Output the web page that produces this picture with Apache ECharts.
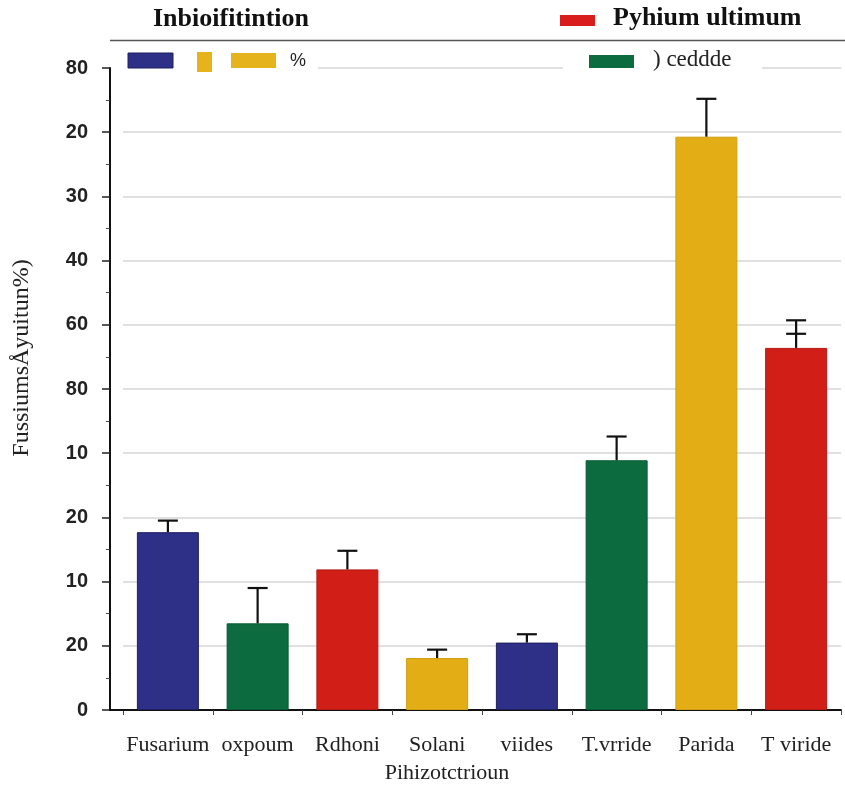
<!DOCTYPE html>
<html>
<head>
<meta charset="utf-8">
<script src="https://cdn.jsdelivr.net/npm/echarts@6/dist/echarts.min.js"></script>
<style>
  html, body { margin: 0; padding: 0; background: #fff; }
  #chart { width: 845px; height: 787px; }
</style>
</head>
<body>
<div id="chart"></div>
<script>
// Bar categories along the x axis
const categories = ['Fusarium', 'oxpoum', 'Rdhoni', 'Solani', 'viides', 'T.vrride', 'Parida', 'T viride'];
// Bar heights (axis units, 0 at the baseline)
const values = [27.7, 13.5, 21.9, 8.1, 10.5, 38.9, 89.3, 56.4];
// Upper end of each error bar
const errorTop = [29.5, 19.0, 24.8, 9.4, 11.8, 42.6, 95.2, 60.7];
// Extra inner cap (only the last bar has one)
const errorInner = [null, null, null, null, null, null, null, 58.6];
// Colour group of each bar
const groups = ['blue', 'green', 'red', 'yellow', 'blue', 'green', 'yellow', 'red'];
// Printed y tick labels, bottom to top
const yTickLabels = ['0', '20', '10', '20', '10', '80', '60', '40', '30', '20', '80'];

const palette = {
  blue:   { fill: '#2e2f86', edge: '#1f2060' },
  green:  { fill: '#0c6c3f', edge: '#0a5a34' },
  red:    { fill: '#d11f18', edge: '#b51812' },
  yellow: { fill: '#e2ad15', edge: '#d29f10' }
};

const serif = '"Liberation Serif", "DejaVu Serif", serif';
const sans = '"Liberation Sans", Arial, sans-serif';

const chart = echarts.init(document.getElementById('chart'));

const barData = values.map((v, i) => ({
  value: v,
  itemStyle: { color: palette[groups[i]].fill, borderColor: palette[groups[i]].edge, borderWidth: 1 }
}));

const errData = values.map((v, i) => [i, v, errorTop[i], errorInner[i]]);

function renderError(params, api) {
  const i = api.value(0);
  const base = api.coord([i, api.value(1)]);
  const top = api.coord([i, api.value(2)]);
  const half = 10;
  const children = [
    { type: 'line', shape: { x1: base[0], y1: base[1], x2: top[0], y2: top[1] }, style: { stroke: '#111', lineWidth: 2.2 } },
    { type: 'line', shape: { x1: top[0] - half, y1: top[1], x2: top[0] + half, y2: top[1] }, style: { stroke: '#111', lineWidth: 2.2 } }
  ];
  const inner = api.value(3);
  if (inner != null && !isNaN(inner)) {
    const p = api.coord([i, inner]);
    children.push({ type: 'line', shape: { x1: p[0] - half, y1: p[1], x2: p[0] + half, y2: p[1] }, style: { stroke: '#111', lineWidth: 2.2 } });
  }
  return { type: 'group', children: children };
}

// Header: title, legend keys and rules
const header = [
  { type: 'text', left: 153, top: 6, z: 100, style: { text: 'Inbioifitintion', font: 'bold 26px ' + serif, fill: '#111' } },
  { type: 'rect', shape: { x: 560, y: 15, width: 35, height: 11 }, z: 100, style: { fill: '#d91c1c' } },
  { type: 'text', left: 613, top: 5, z: 100, style: { text: 'Pyhium ultimum', font: 'bold 26px ' + serif, fill: '#111' } },
  { type: 'line', shape: { x1: 110, y1: 40.5, x2: 845, y2: 40.5 }, z: 100, style: { stroke: '#555', lineWidth: 1.5 } },
  // white patches that break the top grid line behind the keys
  { type: 'rect', shape: { x: 123, y: 50, width: 195, height: 25 }, z: 90, style: { fill: '#fff' } },
  { type: 'rect', shape: { x: 563, y: 50, width: 199, height: 25 }, z: 90, style: { fill: '#fff' } },
  { type: 'rect', shape: { x: 128, y: 53, width: 45, height: 15 }, z: 100, style: { fill: '#2e2f86', stroke: '#1f2060', lineWidth: 1 } },
  { type: 'rect', shape: { x: 197, y: 52, width: 15, height: 20 }, z: 100, style: { fill: '#e5b41c' } },
  { type: 'rect', shape: { x: 231, y: 53, width: 45, height: 15 }, z: 100, style: { fill: '#e5b41c' } },
  { type: 'text', left: 290, top: 52, z: 100, style: { text: '%', font: '18px ' + sans, fill: '#222' } },
  { type: 'rect', shape: { x: 589, y: 55, width: 45, height: 13 }, z: 100, style: { fill: '#0c6c3f' } },
  { type: 'text', left: 653, top: 48, z: 100, style: { text: ') ceddde', font: '23px ' + serif, fill: '#222' } },
  // short stub of the baseline to the left of the first category
  { type: 'line', shape: { x1: 109, y1: 710, x2: 124, y2: 710 }, z: 100, style: { stroke: '#111', lineWidth: 2 } }
];

chart.setOption({
  animation: false,
  backgroundColor: '#fff',
  grid: { left: 123, right: 4, top: 68, bottom: 77, containLabel: false, outerBoundsMode: 'none' },
  xAxis: {
    type: 'category',
    data: categories,
    name: 'Pihizotctrioun',
    nameLocation: 'middle',
    nameGap: 52,
    nameTextStyle: { fontFamily: serif, fontSize: 22, color: '#222', padding: [0, 70, 0, 0] },
    axisLine: { lineStyle: { color: '#111', width: 2 } },
    axisTick: { show: true, interval: 0, length: 5, lineStyle: { color: '#444' } },
    axisLabel: { interval: 0, fontFamily: serif, fontSize: 22, color: '#222', margin: 24 }
  },
  yAxis: {
    type: 'value',
    min: 0,
    max: 100,
    interval: 10,
    offset: 13,
    name: 'FussiumsÅyuitun%)',
    nameLocation: 'middle',
    nameGap: 76,
    nameTextStyle: { fontFamily: serif, fontSize: 24, color: '#222', padding: [0, 0, 0, 62] },
    axisLine: { show: true, lineStyle: { color: '#111', width: 2 } },
    axisTick: { show: true, length: 8, lineStyle: { color: '#222', width: 1.5 } },
    minorTick: { show: true, splitNumber: 2, length: 4, lineStyle: { color: '#444' } },
    splitLine: { show: true, lineStyle: { color: '#d6d6d6', width: 1.5 } },
    axisLabel: {
      fontFamily: sans, fontWeight: 'bold', fontSize: 20, color: '#222', margin: 22,
      formatter: v => yTickLabels[Math.round(v / 10)]
    }
  },
  graphic: header,
  series: [
    {
      type: 'bar',
      data: barData,
      barWidth: 62,
      z: 2
    },
    {
      type: 'custom',
      data: errData,
      renderItem: renderError,
      encode: { x: 0, y: 2 },
      z: 3
    }
  ]
});
</script>
</body>
</html>
